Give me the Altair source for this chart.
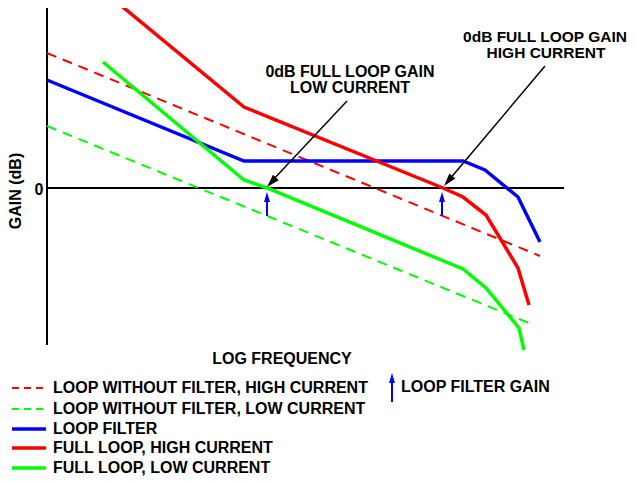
import altair as alt
import pandas as pd

# ---- data (x = log-frequency position, gain = dB units, 0 dB = 0) ----
fl_high_x = [118, 244, 443, 463, 486, 518, 529]
fl_high_y = [185, 81, 0, -9, -27, -80, -117]

fl_low_x = [103, 244, 267, 463, 486, 519, 524]
fl_low_y = [126, 8, 0, -81, -100, -140, -162]

filter_x = [47, 244, 463, 485, 518, 540]
filter_y = [108, 27, 27, 18, -9, -54]

nofilt_high_x = [47, 540]
nofilt_high_y = [135, -68]

nofilt_low_x = [47, 529]
nofilt_low_y = [62, -135]

legend_labels = [
    "LOOP WITHOUT FILTER, HIGH CURRENT",
    "LOOP WITHOUT FILTER, LOW CURRENT",
    "LOOP FILTER",
    "FULL LOOP, HIGH CURRENT",
    "FULL LOOP, LOW CURRENT",
]

RED, GREEN, BLUE = "#ff0000", "#00ff00", "#0000ff"
FONT = "Liberation Sans"

X = alt.X("x:Q", scale=alt.Scale(domain=[8, 628]), axis=None)
Y = alt.Y("gain:Q", scale=alt.Scale(domain=[-290, 180]), axis=None)


def line_layer(xs, ys, color, width, dash=None):
    df = pd.DataFrame({"x": xs, "gain": ys, "o": list(range(len(xs)))})
    kw = dict(color=color, strokeWidth=width, strokeCap="butt", strokeJoin="miter")
    if dash:
        kw["strokeDash"] = dash
    return alt.Chart(df).mark_line(**kw).encode(x=X, y=Y, order="o:Q")


def seg_layer(x1, y1, x2, y2, color, width, dash=None):
    df = pd.DataFrame({"x": x1, "gain": y1, "x2": x2, "gain2": y2})
    kw = dict(color=color, strokeWidth=width, strokeCap="butt")
    if dash:
        kw["strokeDash"] = dash
    return alt.Chart(df).mark_rule(**kw).encode(x=X, y=Y, x2="x2:Q", y2="gain2:Q")


def text_layer(xs, ys, texts, align="center", angle=0, size=16):
    df = pd.DataFrame({"x": xs, "gain": ys, "t": texts})
    return alt.Chart(df).mark_text(
        font=FONT, fontWeight="bold", fontSize=size, align=align, baseline="middle",
        angle=angle, color="black"
    ).encode(x=X, y=Y, text="t:N")


def head_layer(xs, ys, angle, color, size, path):
    df = pd.DataFrame({"x": xs, "gain": ys})
    return alt.Chart(df).mark_point(
        shape=path, filled=True, color=color, opacity=1, size=size, angle=angle, strokeWidth=0
    ).encode(x=X, y=Y)


BLACK_HEAD = "M0,0 L-0.6,2 L0.6,2 Z"
BLUE_HEAD = "M0,0 L-0.6,2 L0.6,2 Z"

layers = [
    # axes
    seg_layer([47], [186], [47], [-157], "black", 2),
    seg_layer([47], [0], [564], [0], "black", 2),
    # dashed open-loop lines
    line_layer(nofilt_high_x, nofilt_high_y, RED, 2, [10, 7]),
    line_layer(nofilt_low_x, nofilt_low_y, GREEN, 2, [10, 7]),
    # blue loop-filter-gain arrows
    seg_layer([267, 442], [-28, -28], [267, 442], [-10, -10], BLUE, 2),
    head_layer([267, 442], [-4, -4], 0, BLUE, 100, BLUE_HEAD),
    # solid lines
    line_layer(filter_x, filter_y, BLUE, 3.5),
    line_layer(fl_low_x, fl_low_y, GREEN, 3.5),
    line_layer(fl_high_x, fl_high_y, RED, 3.5),
    # black annotation arrows
    seg_layer([347], [87], [272], [7], "black", 1.5),
    head_layer([267], [1], 223, "black", 169, BLACK_HEAD),
    seg_layer([545], [122], [449], [8], "black", 1.5),
    head_layer([444], [2], 220, "black", 169, BLACK_HEAD),
    # annotation texts
    text_layer([350, 350], [116, 100], ["0dB FULL LOOP GAIN", "LOW CURRENT"]),
    text_layer([545, 546], [151, 135], ["0dB FULL LOOP GAIN", "HIGH CURRENT"], size=15.5),
    # axis labels
    text_layer([282], [-171], ["LOG FREQUENCY"]),
    text_layer([16], [-3], ["GAIN (dB)"], angle=270),
    text_layer([39], [-2], ["0"]),
    # legend
    seg_layer([12], [-200], [46], [-200], RED, 2, [7, 5]),
    seg_layer([12], [-221], [46], [-221], GREEN, 2, [7, 5]),
    seg_layer([12], [-241], [46], [-241], BLUE, 3.5),
    seg_layer([12], [-260], [46], [-260], RED, 3.5),
    seg_layer([12], [-280], [46], [-280], GREEN, 3.5),
    text_layer([53] * 5, [-200, -221, -241, -260, -280], legend_labels, align="left"),
    seg_layer([392], [-214], [392], [-193], BLUE, 2),
    head_layer([392], [-185], 0, BLUE, 100, BLUE_HEAD),
    text_layer([401], [-199], ["LOOP FILTER GAIN"], align="left"),
]

chart = alt.layer(*layers).properties(
    width=620, height=470, autosize=alt.AutoSizeParams(type="none"), padding=0
).configure_view(stroke=None)

chart.save("out.html", embed_options={"renderer": "svg", "actions": False})
